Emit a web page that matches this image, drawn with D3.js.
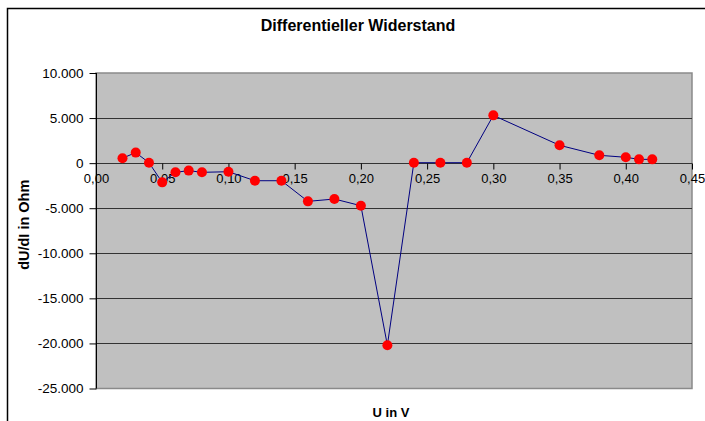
<!DOCTYPE html>
<html>
<head>
<meta charset="utf-8">
<script src="https://cdn.jsdelivr.net/npm/d3@7"></script>
<style>
  body { margin: 0; background: #fff; }
  svg { display: block; font-family: Arial, "Liberation Sans", sans-serif; }
</style>
</head>
<body>
<div id="chart"></div>
<script>
// Differentieller Widerstand – dU/dI vs U

const uValues = [0.02, 0.03, 0.04, 0.05, 0.06, 0.07, 0.08, 0.10, 0.12, 0.14, 0.16, 0.18, 0.20,
                 0.22, 0.24, 0.26, 0.28, 0.30, 0.35, 0.38, 0.40, 0.41, 0.42];
const rValues = [550, 1170, 50, -2130, -1020, -830, -1020, -950, -1950, -1950, -4240, -3980, -4720,
                 -20200, 50, 50, 50, 5300, 1980, 870, 650, 420, 420];
const xTicks = [0, 0.05, 0.10, 0.15, 0.20, 0.25, 0.30, 0.35, 0.40, 0.45];
const yTicks = [10000, 5000, 0, -5000, -10000, -15000, -20000, -25000];

const W = 705, H = 421;
const plot = { left: 96, right: 692, top: 73, bottom: 388.5 };

const svg = d3.select('#chart').append('svg')
    .attr('width', W)
    .attr('height', H);

// Outer chart frame (left + top visible)
svg.append('path')
    .attr('d', `M7.5,${H} L7.5,8.5 L${W},8.5`)
    .attr('fill', 'none')
    .attr('stroke', '#000')
    .attr('stroke-width', 1.5);

// Scales
const x = d3.scaleLinear().domain([0, 0.45]).range([plot.left, plot.right]);
const y = d3.scaleLinear().domain([-25000, 10000]).range([plot.bottom, plot.top]);

// Plot area
svg.append('rect')
    .attr('x', plot.left)
    .attr('y', plot.top)
    .attr('width', plot.right - plot.left)
    .attr('height', plot.bottom - plot.top)
    .attr('fill', '#c0c0c0')
    .attr('stroke', '#8a8a8a')
    .attr('stroke-width', 1.5);

// Horizontal grid lines
svg.append('g')
    .selectAll('line')
    .data(yTicks.filter(d => d !== 10000 && d !== -25000))
    .enter()
    .append('line')
    .attr('x1', plot.left)
    .attr('x2', plot.right)
    .attr('y1', d => Math.round(y(d)) + 0.5)
    .attr('y2', d => Math.round(y(d)) + 0.5)
    .attr('stroke', '#333')
    .attr('stroke-width', 1);

// Y axis line
svg.append('line')
    .attr('x1', plot.left + 0.5).attr('x2', plot.left + 0.5)
    .attr('y1', plot.top).attr('y2', plot.bottom)
    .attr('stroke', '#000');

// Y axis ticks and labels
const fmtY = d => d3.format(',')(d).replace(/,/g, '.').replace('−', '-');
const yAxis = d3.axisLeft(y)
    .tickValues(yTicks)
    .tickSize(7)
    .tickPadding(6)
    .tickFormat(fmtY);

svg.append('g')
    .attr('transform', `translate(${plot.left + 0.5},0)`)
    .call(yAxis)
    .call(g => g.select('.domain').remove())
    .call(g => g.selectAll('text')
        .style('font-size', '13.5px')
        .style('font-family', 'Arial, "Liberation Sans", sans-serif')
        .attr('fill', '#000'));

// X axis along zero line
const zeroY = Math.round(y(0)) + 0.5;
const xAxis = d3.axisBottom(x)
    .tickValues(xTicks)
    .tickSize(6)
    .tickPadding(4)
    .tickFormat(d => d.toFixed(2).replace('.', ','));

svg.append('g')
    .attr('transform', `translate(0,${zeroY})`)
    .call(xAxis)
    .call(g => g.select('.domain').remove())
    .call(g => g.selectAll('text')
        .style('font-size', '13px')
        .style('font-family', 'Arial, "Liberation Sans", sans-serif')
        .attr('fill', '#000'));

// Data line
const points = uValues.map((u, i) => ({ u, r: rValues[i] }));

svg.append('path')
    .datum(points)
    .attr('fill', 'none')
    .attr('stroke', '#000080')
    .attr('stroke-width', 1)
    .attr('d', d3.line().x(d => x(d.u)).y(d => y(d.r)));

// Markers
svg.append('g')
    .selectAll('circle')
    .data(points)
    .enter()
    .append('circle')
    .attr('cx', d => x(d.u))
    .attr('cy', d => y(d.r))
    .attr('r', 5)
    .attr('fill', '#ff0000');

// Title
svg.append('text')
    .attr('x', 358)
    .attr('y', 31)
    .attr('text-anchor', 'middle')
    .style('font-size', '16px')
    .style('font-weight', 'bold')
    .text('Differentieller Widerstand');

// Axis titles
svg.append('text')
    .attr('x', (plot.left + plot.right) / 2 - 3)
    .attr('y', 417)
    .attr('text-anchor', 'middle')
    .style('font-size', '13px')
    .style('font-weight', 'bold')
    .text('U in V');

svg.append('text')
    .attr('transform', `translate(29,${(plot.top + plot.bottom) / 2 - 6}) rotate(-90)`)
    .attr('text-anchor', 'middle')
    .style('font-size', '14.5px')
    .style('font-weight', 'bold')
    .text('dU/dI in Ohm');
</script>
</body>
</html>
